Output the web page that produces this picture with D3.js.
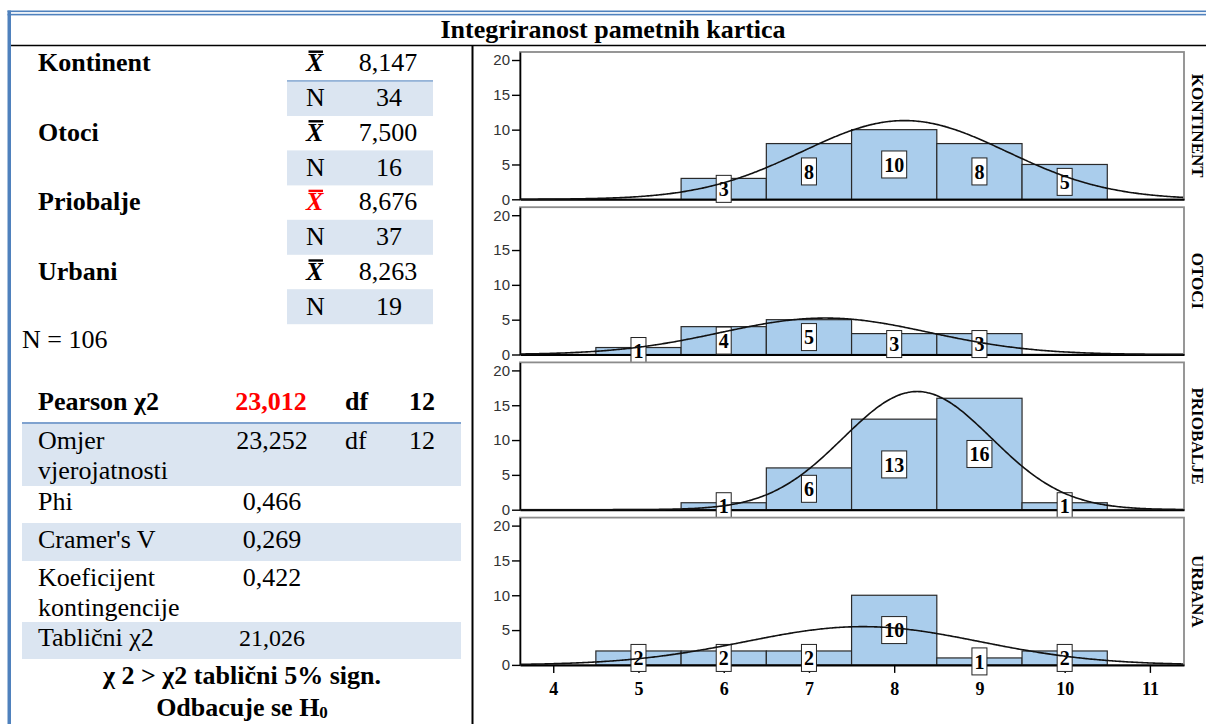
<!DOCTYPE html>
<html><head><meta charset="utf-8">
<script src="https://cdn.jsdelivr.net/npm/d3@7"></script>
<style>
html,body{margin:0;padding:0;background:#fff;}
svg{display:block;}
</style></head><body>
<svg id="c" width="1206" height="724"></svg>
<script>
// ---------- data ----------
const title = "Integriranost pametnih kartica";
const groupNames = ["Kontinent","Otoci","Priobalje","Urbani"];
const groupMeans = ["8,147","7,500","8,676","8,263"];
const groupNs = ["34","16","37","19"];
const meanHighlight = [false,false,true,false];
const totalN = "N = 106";
const pearsonRow = ["Pearson χ2","23,012","df","12"];
const statLabels = [["Omjer","vjerojatnosti"],["Phi"],["Cramer's V"],["Koeficijent","kontingencije"],["Tablični χ2"]];
const statValues = ["23,252","0,466","0,269","0,422","21,026"];
const statDf = ["12","","","",""];
const conclusion1 = "χ 2 > χ2 tablični 5% sign.";
const conclusion2 = "Odbacuje se H";

const panelNames = ["KONTINENT","OTOCI","PRIOBALJE","URBANA"];
const binCenters = [5,6,7,8,9,10];
const kontinentCounts = [0,3,8,10,8,5];
const otociCounts = [1,4,5,3,3,0];
const priobaljeCounts = [0,1,6,13,16,1];
const urbanaCounts = [2,2,2,10,1,2];
const curveMeans = [8.12, 7.19, 8.27, 7.63];
const curveSDs = [1.20, 1.22, 0.87, 1.38];
const curveNs = [34, 16, 37, 19];
const xTicks = [4,5,6,7,8,9,10,11];
const yTicks = [0,5,10,15,20];

// ---------- drawing ----------
const svg = d3.select("#c");
const serif = "'Liberation Serif','Times New Roman',serif";
const sans = "'Liberation Sans',Arial,sans-serif";
const blue = "#4F81BD";
const band = "#DBE5F1";

// frame
svg.append("rect").attr("x",7.5).attr("y",10.5).attr("width",3.5).attr("height",714).attr("fill",blue);
svg.append("rect").attr("x",7.5).attr("y",10.5).attr("width",1200).attr("height",1.6).attr("fill",blue);
svg.append("rect").attr("x",7.5).attr("y",13.8).attr("width",1200).attr("height",1.6).attr("fill",blue);
svg.append("line").attr("x1",11).attr("x2",1206).attr("y1",45.5).attr("y2",45.5).attr("stroke","#000").attr("stroke-width",1.6);
svg.append("line").attr("x1",472.5).attr("x2",472.5).attr("y1",45).attr("y2",724).attr("stroke","#000").attr("stroke-width",2);

svg.append("text").attr("x",613).attr("y",38).attr("text-anchor","middle")
  .attr("font-family",serif).attr("font-size",26).attr("font-weight","bold").text(title);

// upper table
groupNames.forEach((name,i)=>{
  const yb = 71 + i*69.6;
  const bTop = 81 + i*69.4;
  svg.append("rect").attr("x",287).attr("y",bTop).attr("width",146).attr("height",35).attr("fill",band);
  if(i===0) svg.append("rect").attr("x",287).attr("y",bTop-1).attr("width",146).attr("height",1.8).attr("fill","#95B3D7");
  svg.append("text").attr("x",38).attr("y",yb).attr("font-family",serif).attr("font-size",26).attr("font-weight","bold").text(name);
  const col = meanHighlight[i] ? "#FF0000" : "#000";
  svg.append("text").attr("x",306).attr("y",yb).attr("font-family",serif).attr("font-size",26).attr("font-weight","bold").attr("font-style","italic").attr("fill",col).text("X");
  svg.append("rect").attr("x",308.5).attr("y",yb-20.5).attr("width",14.5).attr("height",2.4).attr("fill",col);
  svg.append("text").attr("x",388).attr("y",yb).attr("text-anchor","middle").attr("font-family",serif).attr("font-size",26).text(groupMeans[i]);
  const yn = yb + 35;
  svg.append("text").attr("x",306).attr("y",yn).attr("font-family",serif).attr("font-size",26).text("N");
  svg.append("text").attr("x",389).attr("y",yn).attr("text-anchor","middle").attr("font-family",serif).attr("font-size",26).text(groupNs[i]);
});
svg.append("text").attr("x",22).attr("y",348).attr("font-family",serif).attr("font-size",26).text(totalN);

// lower table
svg.append("text").attr("x",38).attr("y",410).attr("font-family",serif).attr("font-size",26).attr("font-weight","bold").text(pearsonRow[0]);
svg.append("text").attr("x",271).attr("y",410).attr("text-anchor","middle").attr("font-family",serif).attr("font-size",26).attr("font-weight","bold").attr("fill","#FF0000").text(pearsonRow[1]);
svg.append("text").attr("x",345).attr("y",410).attr("font-family",serif).attr("font-size",26).attr("font-weight","bold").text(pearsonRow[2]);
svg.append("text").attr("x",422).attr("y",410).attr("text-anchor","middle").attr("font-family",serif).attr("font-size",26).attr("font-weight","bold").text(pearsonRow[3]);

const rowTops = [424, 486, 523, 561, 622];
const rowBots = [486, 523, 561, 622, 659];
const rowBase = [449, 510, 548, 586, 646];
statLabels.forEach((lab,i)=>{
  if(i%2===0) svg.append("rect").attr("x",22).attr("y",rowTops[i]).attr("width",439).attr("height",rowBots[i]-rowTops[i]).attr("fill",band);
});
svg.append("rect").attr("x",22).attr("y",422).attr("width",439).attr("height",2).attr("fill","#7FA2CF");
statLabels.forEach((lab,i)=>{
  lab.forEach((l,k)=>{
    svg.append("text").attr("x",38).attr("y",rowBase[i]+k*30).attr("font-family",serif).attr("font-size",26).text(l);
  });
  svg.append("text").attr("x",272).attr("y",rowBase[i]).attr("text-anchor","middle").attr("font-family",serif)
    .attr("font-size", i===4 ? 24 : 26).text(statValues[i]);
  if(statDf[i]){
    svg.append("text").attr("x",345).attr("y",rowBase[i]).attr("font-family",serif).attr("font-size",26).text("df");
    svg.append("text").attr("x",422).attr("y",rowBase[i]).attr("text-anchor","middle").attr("font-family",serif).attr("font-size",26).text(statDf[i]);
  }
});
svg.append("text").attr("x",242).attr("y",684).attr("text-anchor","middle").attr("font-family",serif).attr("font-size",26).attr("font-weight","bold").text(conclusion1);
const c2 = svg.append("text").attr("x",242).attr("y",716).attr("text-anchor","middle").attr("font-family",serif).attr("font-size",26).attr("font-weight","bold").text(conclusion2);
c2.append("tspan").attr("font-size",17).attr("dy",2).text("0");

// ---------- histograms ----------
const countsAll = [kontinentCounts, otociCounts, priobaljeCounts, urbanaCounts];
const x = d3.scaleLinear().domain([3.61, 11.40]).range([520, 1184]);
const panelTop0 = 52, panelStep = 155.2, panelH = 147.3;
const pdf = (v,m,s)=> Math.exp(-0.5*((v-m)/s)**2)/(s*Math.sqrt(2*Math.PI));

countsAll.forEach((counts,i)=>{
  const top = panelTop0 + i*panelStep, bottom = top + panelH;
  const y = d3.scaleLinear().domain([0, 21.15]).range([bottom, top]);
  const g = svg.append("g");
  g.append("rect").attr("x",520).attr("y",top).attr("width",664).attr("height",panelH)
    .attr("fill","#fff").attr("stroke","#8c8c8c").attr("stroke-width",1.8);

  const bins = binCenters.map((c,j)=>({c, n:counts[j]})).filter(d=>d.n>0);
  g.selectAll("rect.bar").data(bins).join("rect").attr("class","bar")
    .attr("x",d=>x(d.c-0.5)).attr("width",d=>x(d.c+0.5)-x(d.c-0.5))
    .attr("y",d=>y(d.n)).attr("height",d=>y(0)-y(d.n))
    .attr("fill","#AACDEC").attr("stroke","#2a2a2a").attr("stroke-width",1.2);

  // y axis
  const ya = g.append("g").attr("transform","translate(520,0)")
    .call(d3.axisLeft(y).tickValues(yTicks).tickSize(8).tickSizeOuter(0).tickPadding(2));
  ya.select(".domain").attr("stroke","#000").attr("stroke-width",1.6);
  ya.selectAll(".tick line").attr("stroke","#000").attr("stroke-width",1.4);
  ya.selectAll(".tick text").attr("font-family",sans).attr("font-size",15).attr("fill","#333");

  // x axis
  const xa = g.append("g").attr("transform",`translate(0,${bottom})`)
    .call(d3.axisBottom(x).tickValues(i===3 ? xTicks : []).tickSize(8).tickSizeOuter(0).tickPadding(9));
  xa.select(".domain").attr("stroke","#000").attr("stroke-width",2);
  xa.selectAll(".tick line").attr("stroke","#000").attr("stroke-width",1.4);
  xa.selectAll(".tick text").attr("font-family",serif).attr("font-size",18).attr("font-weight","bold").attr("fill","#000");

  // labels
  const bw = d=> String(d.n).length*10 + 5;
  const lg = g.selectAll("g.lab").data(bins).join("g").attr("class","lab")
    .attr("transform",d=>`translate(${x(d.c)},${y(d.n/2)})`);
  lg.append("rect").attr("x",d=>-bw(d)/2).attr("y",-13.5)
    .attr("width",bw).attr("height",27)
    .attr("fill","#fff").attr("stroke","#222").attr("stroke-width",1);
  lg.append("text").attr("text-anchor","middle").attr("dy","0.36em")
    .attr("font-family",serif).attr("font-size",20).attr("font-weight","bold").text(d=>d.n);

  // normal curve
  const pts = d3.range(3.61, 11.4001, 0.02).map(v=>[v, curveNs[i]*pdf(v, curveMeans[i], curveSDs[i])]);
  g.append("path").datum(pts).attr("fill","none").attr("stroke","#111").attr("stroke-width",1.6)
    .attr("d", d3.line().x(d=>x(d[0])).y(d=>y(d[1])).curve(d3.curveBasis));

  // panel label
  g.append("text").attr("transform",`translate(1192,${(top+bottom)/2}) rotate(90)`)
    .attr("text-anchor","middle").attr("font-family",serif).attr("font-size",17).attr("font-weight","bold")
    .text(panelNames[i]);
});
</script>
</body></html>
